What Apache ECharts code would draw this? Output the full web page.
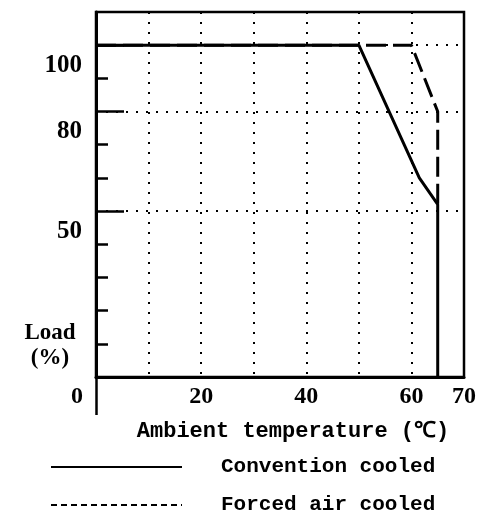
<!DOCTYPE html>
<html>
<head>
<meta charset="utf-8">
<script src="https://cdn.jsdelivr.net/npm/echarts@6/dist/echarts.min.js"></script>
<style>html,body{margin:0;padding:0;background:#fff;}#c{width:495px;height:511px;}</style>
</head>
<body>
<div id="c"></div>
<script>
// Data
const conventionCooled = [[0, 100], [50, 100], [61.5, 60], [65, 52], [65, 0]];
const forcedAirCooled = [[0, 100], [60, 100], [65, 80], [65, 52]];
const xTickLabels = [0, 20, 40, 60, 70];
const yTickLabels = [50, 80, 100];
const yGridLines = [50, 80, 100];
const yShortTicks = [10, 20, 30, 40, 60, 70, 90];
const seriesNames = ['Convention cooled', 'Forced air cooled'];
const xAxisTitle = 'Ambient temperature (\u2103)';
const yAxisTitle = 'Load\n(%)';

const chart = echarts.init(document.getElementById('c'), null, {renderer: 'canvas'});
const dotted = {color: '#000', width: 2, type: [2, 8]};
const legendText = {fontFamily: 'Liberation Mono', fontWeight: 'bold', fontSize: 21, color: '#000', lineHeight: 24, padding: [0, 0, 0, 34]};
chart.setOption({
  animation: false,
  backgroundColor: '#fff',
  title: {
    text: yAxisTitle,
    left: 45, top: 316, textAlign: 'center',
    textStyle: {fontFamily: 'Liberation Serif', fontWeight: 'bold', fontSize: 23, color: '#000', lineHeight: 25, align: 'center'}
  },
  grid: {left: 96, right: 31, top: 12, bottom: 134, show: true, borderColor: '#000', borderWidth: 2.5},
  legend: [
    {
      left: 45, top: 450, itemWidth: 131, itemHeight: 14,
      itemStyle: {opacity: 0},
      data: [{name: seriesNames[0]}],
      textStyle: legendText
    },
    {
      left: 45, top: 488, itemWidth: 131, itemHeight: 14,
      itemStyle: {opacity: 0},
      data: [{name: seriesNames[1], lineStyle: {type: [6, 4], width: 2}}],
      textStyle: legendText
    }
  ],
  xAxis: [
    {
      type: 'value', min: 0, max: 70, interval: 10,
      name: xAxisTitle, nameLocation: 'middle', nameGap: 43,
      nameTextStyle: {fontFamily: 'Liberation Mono', fontWeight: 'bold', fontSize: 22, color: '#000', padding: [0, 0, 0, 26]},
      axisLine: {lineStyle: {color: '#000', width: 3}},
      axisTick: {show: true, customValues: [0], length: 38, lineStyle: {color: '#000', width: 2.5}},
      axisLabel: {
        customValues: xTickLabels, margin: 8,
        fontFamily: 'Liberation Serif', fontWeight: 'bold', fontSize: 24, color: '#000',
        formatter: v => v === 0 ? '{z|0}' : String(v),
        rich: {z: {fontFamily: 'Liberation Serif', fontWeight: 'bold', fontSize: 24, color: '#000', padding: [0, 38, 0, 0]}}
      },
      splitLine: {show: false}
    },
    {
      type: 'value', min: 0, max: 70, interval: 10, position: 'top',
      axisLine: {show: false}, axisTick: {show: false}, axisLabel: {show: false},
      splitLine: {show: true, lineStyle: dotted}
    }
  ],
  yAxis: [
    {
      type: 'value', min: 0, max: 110, interval: 10,
      axisLine: {show: true, lineStyle: {color: '#000', width: 3}},
      axisTick: {show: true, inside: true, customValues: yShortTicks, length: 12, lineStyle: {color: '#000', width: 2.5}},
      axisLabel: {
        customValues: yTickLabels, margin: 14, verticalAlign: 'top', padding: [8, 0, 0, 0],
        fontFamily: 'Liberation Serif', fontWeight: 'bold', fontSize: 25, color: '#000'
      },
      splitLine: {show: false}
    },
    {
      type: 'value', min: 0, max: 110, interval: 10, position: 'left',
      axisLine: {show: false},
      axisTick: {show: true, inside: true, customValues: yGridLines, length: 28, lineStyle: {color: '#000', width: 2.5}},
      axisLabel: {show: false},
      splitLine: {show: true, lineStyle: dotted}
    }
  ],
  series: [
    {
      name: seriesNames[1], type: 'line', data: forcedAirCooled, symbol: 'none',
      itemStyle: {color: '#000'},
      lineStyle: {color: '#000', width: 3, type: [20, 7]}, z: 3
    },
    {
      name: seriesNames[0], type: 'line', data: conventionCooled, symbol: 'none',
      itemStyle: {color: '#000'},
      lineStyle: {color: '#000', width: 3, type: 'solid'}, z: 4
    }
  ]
});
</script>
</body>
</html>
